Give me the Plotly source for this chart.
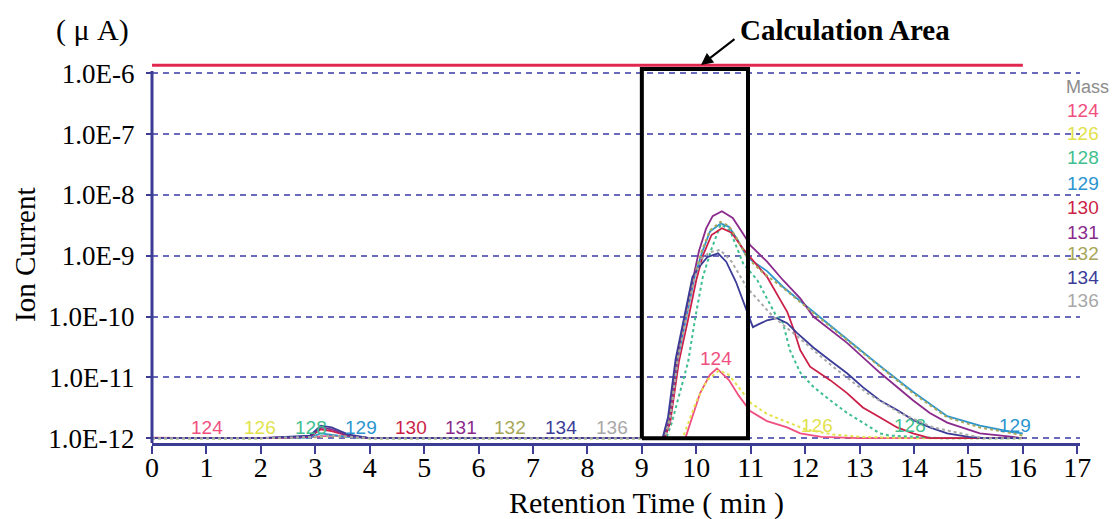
import math
import plotly.graph_objects as go

# ---------------- data ----------------
masses = ["124", "126", "128", "129", "130", "131", "132", "134", "136"]
mass_colors = ["#f0507f", "#e2e24c", "#3fbf8f", "#2b95cf", "#cc1f48",
               "#8a2b8c", "#a7a75a", "#3b3b98", "#a8a8a8"]
mass_dash = ["solid", "dot", "dot", "solid", "solid", "solid", "dot", "solid", "dot"]

t124 = [0, 1, 2, 3, 3.3, 4, 5, 6, 7, 8, 9, 9.8, 10.07, 10.25, 10.38, 10.6, 10.78,
        10.99, 11.3, 11.67, 11.91, 12.3, 13.0, 14.0, 15.0, 16.0]
v124 = [1.02e-12, 1.0e-12, 1.01e-12, 1.05e-12, 1.1e-12, 1.0e-12, 1.0e-12, 1.0e-12,
        1.0e-12, 1.0e-12, 1.0e-12, 1.0e-12, 5.5e-12, 1.1e-11, 1.4e-11, 9.0e-12,
        5.0e-12, 2.8e-12, 1.9e-12, 1.5e-12, 1.2e-12, 1.05e-12, 1.0e-12, 1.0e-12,
        1.0e-12, 1.0e-12]

t126 = [0, 1, 2, 3, 3.3, 4, 5, 6, 7, 8, 9, 9.75, 10.0, 10.2, 10.42, 10.6, 10.8,
        11.0, 11.3, 11.7, 12.0, 12.5, 13.0, 14.0, 15.0, 16.0]
v126 = [1.0e-12, 1.0e-12, 1.0e-12, 1.03e-12, 1.08e-12, 1.0e-12, 1.0e-12, 1.0e-12,
        1.0e-12, 1.0e-12, 1.0e-12, 1.0e-12, 4.0e-12, 9.0e-12, 1.3e-11, 1.1e-11,
        6.5e-12, 3.8e-12, 2.5e-12, 1.8e-12, 1.4e-12, 1.15e-12, 1.05e-12, 1.0e-12,
        1.0e-12, 1.0e-12]

t128 = [0, 1, 2, 3, 3.3, 4, 5, 6, 7, 8, 9, 9.45, 9.55, 9.70, 9.85, 9.98, 10.12,
        10.28, 10.45, 10.62, 10.86, 11.12, 11.45, 11.59, 11.72, 11.91, 12.15, 12.46,
        12.77, 13.06, 13.37, 13.56, 14.5, 15.5, 16.0]
v128 = [1.0e-12, 1.0e-12, 1.0e-12, 1.05e-12, 1.1e-12, 1.0e-12, 1.0e-12, 1.0e-12,
        1.0e-12, 1.0e-12, 1.0e-12, 1.0e-12, 1.8e-12, 6.0e-12, 1.8e-11, 9.4e-11,
        4.5e-10, 1.3e-9, 3.3e-9, 2.6e-9, 7.5e-10, 4.0e-10, 1.1e-10, 8.0e-11,
        2.8e-11, 1.2e-11, 7.0e-12, 4.2e-12, 2.6e-12, 1.8e-12, 1.2e-12, 1.1e-12,
        1.0e-12, 1.0e-12, 1.0e-12]

t129 = [0, 1, 2, 2.9, 3.1, 3.3, 3.6, 4, 5, 6, 7, 8, 9, 9.42, 9.52, 9.66, 9.82,
        9.97, 10.10, 10.25, 10.45, 10.60, 10.75, 10.93, 11.30, 11.59, 12.15, 12.77,
        13.37, 13.98, 14.61, 15.21, 15.82, 16.0]
v129 = [1.0e-12, 1.0e-12, 1.0e-12, 1.02e-12, 1.2e-12, 1.15e-12, 1.05e-12, 1.0e-12,
        1.0e-12, 1.0e-12, 1.0e-12, 1.0e-12, 1.0e-12, 1.0e-12, 2.0e-12, 2.0e-11,
        1.0e-10, 4.5e-10, 1.1e-9, 2.5e-9, 3.4e-9, 3.0e-9, 1.9e-9, 9.5e-10, 5.6e-10,
        3.1e-10, 1.2e-10, 4.2e-11, 1.55e-11, 5.8e-12, 2.3e-12, 1.6e-12, 1.25e-12,
        1.2e-12]

t130 = [0, 1, 2, 2.9, 3.1, 3.3, 3.6, 4, 5, 6, 7, 8, 9, 9.42, 9.52, 9.68, 9.85,
        10.0, 10.12, 10.28, 10.47, 10.65, 10.86, 11.30, 11.54, 11.67, 11.78, 11.91,
        12.09, 12.46, 12.77, 13.06, 13.37, 13.69, 13.98, 14.29, 15.0, 16.0]
v130 = [1.0e-12, 1.0e-12, 1.0e-12, 1.05e-12, 1.4e-12, 1.3e-12, 1.1e-12, 1.0e-12,
        1.0e-12, 1.0e-12, 1.0e-12, 1.0e-12, 1.0e-12, 1.0e-12, 1.8e-12, 1.8e-11,
        9.0e-11, 4.0e-10, 1.0e-9, 2.2e-9, 2.85e-9, 2.4e-9, 1.3e-9, 4.5e-10, 1.9e-10,
        1.2e-10, 6.5e-11, 2.8e-11, 1.5e-11, 9.0e-12, 5.5e-12, 3.2e-12, 2.2e-12,
        1.5e-12, 1.2e-12, 1.0e-12, 1.0e-12, 1.0e-12]

t131 = [0, 1, 2, 2.9, 3.1, 3.3, 3.6, 4, 5, 6, 7, 8, 9, 9.40, 9.50, 9.64, 9.80,
        9.95, 10.05, 10.18, 10.30, 10.47, 10.67, 10.86, 10.99, 11.30, 11.59, 11.91,
        12.15, 12.77, 13.37, 13.98, 14.29, 14.61, 15.21, 15.82, 15.98]
v131 = [1.0e-12, 1.0e-12, 1.0e-12, 1.05e-12, 1.5e-12, 1.4e-12, 1.1e-12, 1.0e-12,
        1.0e-12, 1.0e-12, 1.0e-12, 1.0e-12, 1.0e-12, 1.0e-12, 2.0e-12, 2.0e-11,
        1.1e-10, 5.0e-10, 1.2e-9, 2.8e-9, 4.5e-9, 5.4e-9, 4.2e-9, 2.3e-9, 1.5e-9,
        8.0e-10, 4.0e-10, 2.0e-10, 1.0e-10, 3.7e-11, 1.2e-11, 4.2e-12, 2.6e-12,
        1.8e-12, 1.2e-12, 1.05e-12, 1.0e-12]

t132 = [0, 1, 2, 3, 3.3, 4, 5, 6, 7, 8, 9, 9.42, 9.50, 9.66, 9.82, 9.97, 10.10,
        10.25, 10.44, 10.60, 10.75, 10.93, 11.20, 11.59, 12.15, 12.77, 13.37, 13.98,
        14.61, 15.21, 15.82, 16.0]
v132 = [1.0e-12, 1.0e-12, 1.0e-12, 1.05e-12, 1.1e-12, 1.0e-12, 1.0e-12, 1.0e-12,
        1.0e-12, 1.0e-12, 1.0e-12, 1.0e-12, 2.2e-12, 2.2e-11, 1.1e-10, 4.8e-10,
        1.2e-9, 2.6e-9, 3.6e-9, 3.1e-9, 1.9e-9, 9.5e-10, 5.5e-10, 3.0e-10,
        1.15e-10, 4.1e-11, 1.5e-11, 5.5e-12, 2.2e-12, 1.5e-12, 1.2e-12, 1.1e-12]

t134 = [0, 1, 2, 2.9, 3.1, 3.3, 3.6, 4, 5, 6, 7, 8, 9, 9.38, 9.48, 9.62, 9.78,
        9.93, 10.05, 10.20, 10.40, 10.55, 10.73, 10.89, 11.04, 11.15, 11.30, 11.48,
        11.67, 11.85, 12.15, 12.46, 12.77, 13.06, 13.37, 13.69, 13.98, 14.29, 14.61,
        15.0, 15.3, 16.0]
v134 = [1.0e-12, 1.0e-12, 1.0e-12, 1.1e-12, 1.6e-12, 1.5e-12, 1.15e-12, 1.0e-12,
        1.0e-12, 1.0e-12, 1.0e-12, 1.0e-12, 1.0e-12, 1.0e-12, 2.2e-12, 2.0e-11,
        1.0e-10, 4.5e-10, 6.5e-10, 9.5e-10, 1.1e-9, 8.0e-10, 3.7e-10, 1.55e-10,
        6.7e-11, 7.5e-11, 8.7e-11, 9.4e-11, 7.8e-11, 5.4e-11, 3.1e-11, 1.9e-11,
        1.17e-11, 6.9e-12, 4.2e-12, 2.9e-12, 2.0e-12, 1.5e-12, 1.2e-12, 1.05e-12,
        1.0e-12, 1.0e-12]

t136 = [0, 1, 2, 3, 3.3, 4, 5, 6, 7, 8, 9, 9.42, 9.52, 9.66, 9.82, 9.97, 10.10,
        10.25, 10.44, 10.65, 10.93, 11.41, 11.91, 12.51, 13.14, 13.74, 14.35, 15.27,
        16.0]
v136 = [1.0e-12, 1.0e-12, 1.0e-12, 1.05e-12, 1.1e-12, 1.0e-12, 1.0e-12, 1.0e-12,
        1.0e-12, 1.0e-12, 1.0e-12, 1.0e-12, 2.0e-12, 1.9e-11, 9.5e-11, 4.3e-10,
        9.0e-10, 1.15e-9, 1.25e-9, 8.0e-10, 3.0e-10, 1.0e-10, 4.3e-11, 1.5e-11,
        5.5e-12, 2.6e-12, 1.5e-12, 1.0e-12, 1.0e-12]

series_t = [t124, t126, t128, t129, t130, t131, t132, t134, t136]
series_v = [v124, v126, v128, v129, v130, v131, v132, v134, v136]

top_line_t = [0, 16]
top_line_v = [1.37e-6, 1.37e-6]

calc_area_t = [9.0, 10.95]
calc_area_v = [1.0e-12, 1.18e-6]

x_ticks = list(range(0, 18))
y_tick_vals = [1e-12, 1e-11, 1e-10, 1e-9, 1e-8, 1e-7, 1e-6]
y_tick_text = ["1.0E-12", "1.0E-11", "1.0E-10", "1.0E-9", "1.0E-8", "1.0E-7", "1.0E-6"]

# ---------------- styling ----------------
W, H = 1118, 519
ML, MR, MT, MB = 152, 38, 55, 76
PW, PH = W - ML - MR, H - MT - MB
AXIS = "#3c3c94"
GRID = "#6a6abc"
SERIF = "Liberation Serif, Times New Roman, serif"
SANS = "Liberation Sans, Arial, sans-serif"


def px(xp):
    return (xp - ML) / PW


def py(yp):
    return (H - MB - yp) / PH


fig = go.Figure()

for name, tt, vv, col, dsh in zip(masses, series_t, series_v, mass_colors, mass_dash):
    fig.add_trace(go.Scatter(
        x=tt, y=vv, mode="lines", name=name,
        line=dict(color=col, width=2 if dsh == "dot" else 1.8, dash=dsh),
        showlegend=False, hoverinfo="skip"))

fig.add_trace(go.Scatter(x=top_line_t, y=top_line_v, mode="lines",
                         line=dict(color="#e0284f", width=3),
                         showlegend=False, hoverinfo="skip"))

# calculation area rectangle (closed path in data units)
rect_x = [calc_area_t[0], calc_area_t[1], calc_area_t[1], calc_area_t[0], calc_area_t[0]]
rect_y = [calc_area_v[0], calc_area_v[0], calc_area_v[1], calc_area_v[1], calc_area_v[0]]
fig.add_trace(go.Scatter(x=rect_x, y=rect_y, mode="lines",
                         line=dict(color="black", width=4),
                         showlegend=False, hoverinfo="skip"))

shapes = [
    dict(type="line", xref="paper", yref="paper", x0=0, x1=0,
         y0=0, y1=py(71), line=dict(color=AXIS, width=3)),
]


def txt(text, xp, yp, font, **kw):
    d = dict(text=text, x=px(xp), y=py(yp), xref="paper", yref="paper",
             xanchor="center", yanchor="middle", showarrow=False, font=font)
    d.update(kw)
    return d


annotations = [
    txt("( μ A)", 92, 30, dict(family=SERIF, size=30, color="black")),
    txt("<b>Calculation Area</b>", 845, 30, dict(family=SERIF, size=29, color="black")),
    dict(text="", x=px(701), y=py(65), xref="paper", yref="paper",
         showarrow=True, ax=35, ay=-27, arrowhead=2, arrowsize=1.2,
         arrowwidth=2, arrowcolor="black"),
    txt("Ion Current", 25, 255, dict(family=SERIF, size=29, color="black"), textangle=-90),
    txt("Retention Time ( min )", 646, 503, dict(family=SERIF, size=30, color="black")),
    txt("Mass", 1064, 87, dict(family=SANS, size=18, color="#8c8c8c"), xanchor="left"),
]

legend_y = [110, 133, 158, 183, 207, 232, 253, 277, 300]
bottom_x = [207, 260, 311, 361, 411, 461, 510, 561, 612]
for name, col, ly, bx in zip(masses, mass_colors, legend_y, bottom_x):
    annotations.append(txt(name, 1083, ly, dict(family=SANS, size=19, color=col)))
    annotations.append(txt(name, bx, 427, dict(family=SANS, size=19, color=col)))

peak_labels = [("124", 716, 358), ("126", 817, 425), ("128", 910, 425), ("129", 1015, 425)]
for name, lx, ly in peak_labels:
    col = mass_colors[masses.index(name)]
    annotations.append(txt(name, lx, ly, dict(family=SANS, size=19, color=col)))

fig.update_layout(
    width=W, height=H,
    margin=dict(l=ML, r=MR, t=MT, b=MB, pad=0),
    paper_bgcolor="white", plot_bgcolor="white",
    shapes=shapes, annotations=annotations,
    xaxis=dict(range=[0, 17.05], tickmode="array", tickvals=x_ticks,
               ticktext=[str(v) for v in x_ticks], showgrid=False, zeroline=False,
               showline=True, linecolor=AXIS, linewidth=3,
               ticks="outside", ticklen=8, tickwidth=2, tickcolor=AXIS,
               ticklabelstandoff=-11,
               tickfont=dict(family=SERIF, size=28, color="black")),
    yaxis=dict(type="log", range=[-12.08, -5.696], tickmode="array",
               tickvals=y_tick_vals, ticktext=y_tick_text,
               showgrid=True, gridcolor=GRID, gridwidth=2, griddash="6px,5px",
               zeroline=False, showline=False,
               ticks="outside", ticklen=5, tickwidth=2, tickcolor=AXIS,
               ticklabelstandoff=6,
               tickfont=dict(family=SERIF, size=27, color="black")),
)

fig.write_html("out.html")
